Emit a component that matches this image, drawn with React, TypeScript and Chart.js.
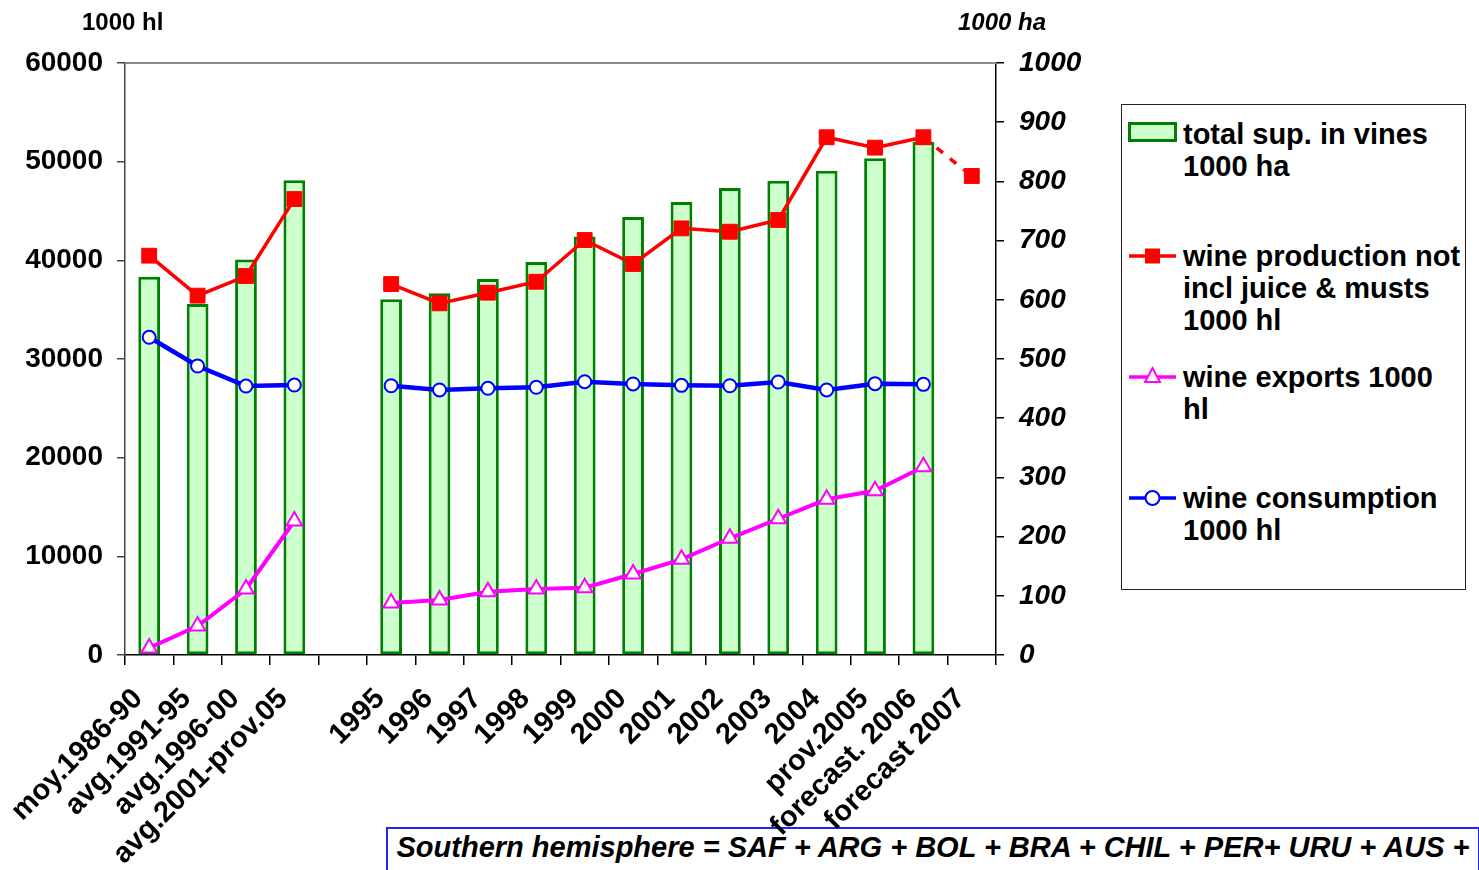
import React, { useEffect, useRef } from 'react';
import { Chart, registerables } from 'chart.js';
Chart.register(...registerables);

const categories = ['moy.1986-90', 'avg.1991-95', 'avg.1996-00', 'avg.2001-prov.05', '', '1995', '1996', '1997', '1998', '1999', '2000', '2001', '2002', '2003', '2004', 'prov.2005', 'forecast. 2006', 'forecast 2007'];
const vineArea = [639, 593, 668, 802, null, 601, 611, 635, 664, 707, 740, 765, 789, 801, 818, 839, 867, null];
const production = [40470, 36420, 38410, 46210, null, 37600, 35640, 36720, 37830, 42060, 39630, 43240, 42900, 44090, 52470, 51420, 52470, 48550];
const exportsHl = [720, 2940, 6690, 13580, null, 5270, 5570, 6415, 6690, 6820, 8210, 9700, 11830, 13810, 15780, 16650, 19080, null];
const consumption = [32200, 29290, 27260, 27360, null, 27290, 26860, 27030, 27130, 27700, 27470, 27330, 27290, 27670, 26860, 27500, 27430, null];

const leftMax = 60000;
const leftStep = 10000;
const rightMax = 1000;
const rightStep = 100;

const FONT = 'Liberation Sans, Arial, sans-serif';

const legendEntries = [
  { kind: 'bar', lines: ['total sup. in vines', '1000 ha'], y: 134 },
  { kind: 'rect', color: '#ff0000', lines: ['wine production not', 'incl juice & musts', '1000 hl'], y: 256 },
  { kind: 'tri', color: '#ff00ff', lines: ['wine exports 1000', 'hl'], y: 377 },
  { kind: 'circle', color: '#0000ff', lines: ['wine consumption', '1000 hl'], y: 498 },
];

const topBorder = {
  id: 'topBorder',
  afterDraw(chart: any) {
    const { ctx, chartArea } = chart;
    ctx.save();
    ctx.strokeStyle = '#8a8a8a';
    ctx.lineWidth = 2;
    ctx.beginPath();
    ctx.moveTo(chartArea.left, chartArea.top);
    ctx.lineTo(chartArea.right, chartArea.top);
    ctx.stroke();
    ctx.restore();
  },
};

function Marker({ e }: { e: any }) {
  if (e.kind === 'bar') {
    return (
      <svg width={52} height={26} style={{ position: 'absolute', left: 1127, top: e.y - 14 }}>
        <rect x={2.5} y={3.5} width={46} height={17} fill="#ccffcc" stroke="#008000" strokeWidth={3} />
      </svg>
    );
  }
  return (
    <svg width={52} height={26} style={{ position: 'absolute', left: 1127, top: e.y - 13 }}>
      <line x1={2} y1={13} x2={49} y2={13} stroke={e.color} strokeWidth={3.5} />
      {e.kind === 'rect' && <rect x={18} y={5.5} width={15} height={15} fill={e.color} />}
      {e.kind === 'tri' && <polygon points="25.5,4 33,18 18,18" fill="#fff" stroke={e.color} strokeWidth={2} />}
      {e.kind === 'circle' && <circle cx={25.5} cy={13} r={7} fill="#fff" stroke={e.color} strokeWidth={2} />}
    </svg>
  );
}

export default function App() {
  const ref = useRef<HTMLCanvasElement>(null);
  useEffect(() => {
    const tickFont = { family: FONT, size: 28, weight: 'bold' as const };
    const plain = (v: any) => String(v);
    const chart = new Chart(ref.current!, {
      type: 'bar',
      data: {
        labels: categories,
        datasets: [
          {
            type: 'line',
            label: 'wine production not incl juice & musts 1000 hl',
            data: production,
            yAxisID: 'y',
            borderColor: '#ff0000',
            backgroundColor: '#ff0000',
            borderWidth: 3.5,
            pointStyle: 'rect',
            pointRadius: 10.5,
            pointBorderWidth: 1,
            pointBackgroundColor: '#ff0000',
            pointBorderColor: '#ff0000',
            spanGaps: false,
            order: 1,
            segment: {
              borderDash: (ctx: any) => (ctx.p1DataIndex === categories.length - 1 ? [8, 9] : undefined),
            },
          } as any,
          {
            type: 'line',
            label: 'wine exports 1000 hl',
            data: exportsHl,
            yAxisID: 'y',
            borderColor: '#ff00ff',
            backgroundColor: '#ffffff',
            borderWidth: 4,
            pointStyle: 'triangle',
            pointRadius: 9,
            pointBorderWidth: 2,
            pointBackgroundColor: '#ffffff',
            pointBorderColor: '#ff00ff',
            spanGaps: false,
            order: 2,
          } as any,
          {
            type: 'line',
            label: 'wine consumption 1000 hl',
            data: consumption,
            yAxisID: 'y',
            borderColor: '#0000ff',
            backgroundColor: '#ffffff',
            borderWidth: 4.5,
            pointStyle: 'circle',
            pointRadius: 6.5,
            pointBorderWidth: 2,
            pointBackgroundColor: '#ffffff',
            pointBorderColor: '#0000ff',
            spanGaps: false,
            order: 3,
          } as any,
          {
            type: 'bar',
            label: 'total sup. in vines 1000 ha',
            data: vineArea,
            yAxisID: 'y1',
            backgroundColor: '#ccffcc',
            borderColor: '#008000',
            borderWidth: 3,
            borderSkipped: false,
            barPercentage: 0.45,
            categoryPercentage: 1,
            order: 10,
          } as any,
        ],
      },
      options: {
        responsive: false,
        animation: false,
        layout: { padding: { top: 63, left: 0, right: 0, bottom: 0 } },
        plugins: { legend: { display: false }, tooltip: { enabled: false }, title: { display: false } },
        scales: {
          x: {
            type: 'category',
            offset: true,
            grid: { display: true, drawOnChartArea: false, offset: true, tickLength: 10, color: '#000', lineWidth: 1.5 },
            border: { display: true, color: '#000', width: 1.5 },
            ticks: { font: { ...tickFont, size: 29 }, color: '#000', maxRotation: 45, minRotation: 45, autoSkip: false, padding: 17, labelOffset: -11 },
            afterFit: (s: any) => { s.height = 215; },
          },
          y: {
            position: 'left',
            min: 0,
            max: leftMax,
            grid: { display: true, drawOnChartArea: false, tickLength: 8, color: '#444', lineWidth: 1.5 },
            border: { display: true, color: '#444', width: 1.5 },
            ticks: { stepSize: leftStep, font: tickFont, color: '#000', padding: 14, callback: plain },
            afterFit: (s: any) => { s.width = 125; },
          },
          y1: {
            position: 'right',
            min: 0,
            max: rightMax,
            grid: { display: true, drawOnChartArea: false, tickLength: 8, color: '#000', lineWidth: 1.5 },
            border: { display: true, color: '#000', width: 1.5 },
            ticks: { stepSize: rightStep, font: { ...tickFont, style: 'italic' }, color: '#000', padding: 15, callback: plain },
            afterFit: (s: any) => { s.width = 1479 - 996; },
          },
        },
      } as any,
      plugins: [topBorder],
    });
    return () => chart.destroy();
  }, []);

  return (
    <div style={{ position: 'absolute', left: 0, top: 0, width: 1479, height: 870, overflow: 'hidden', background: '#fff', fontFamily: FONT, color: '#000' }}>
      <div style={{ position: 'absolute', left: 386, top: 827, width: 1090, height: 80, border: '2px solid #2222ff', background: '#fff', textAlign: 'center', fontSize: 29, fontWeight: 'bold', fontStyle: 'italic', lineHeight: '36px', whiteSpace: 'nowrap' }}>
        Southern hemisphere = SAF + ARG + BOL + BRA + CHIL + PER+ URU + AUS +<br />NZ
      </div>
      <canvas ref={ref} width={1479} height={870} style={{ position: 'absolute', left: 0, top: 0 }} />
      <div style={{ position: 'absolute', left: 82, top: 8, fontSize: 24, fontWeight: 'bold', lineHeight: '28px', whiteSpace: 'nowrap' }}>1000 hl</div>
      <div style={{ position: 'absolute', left: 958, top: 8, fontSize: 24, fontWeight: 'bold', fontStyle: 'italic', lineHeight: '28px', whiteSpace: 'nowrap' }}>1000 ha</div>
      <div style={{ position: 'absolute', left: 1121, top: 104, width: 343, height: 484, border: '1px solid #222', background: '#fff' }} />
      {legendEntries.map((e, i) => (
        <React.Fragment key={i}>
          <Marker e={e} />
          <div style={{ position: 'absolute', left: 1183, top: e.y - 16, fontSize: 29, fontWeight: 'bold', lineHeight: '32px', whiteSpace: 'nowrap' }}>
            {e.lines.map((l, j) => (<div key={j}>{l}</div>))}
          </div>
        </React.Fragment>
      ))}
    </div>
  );
}
